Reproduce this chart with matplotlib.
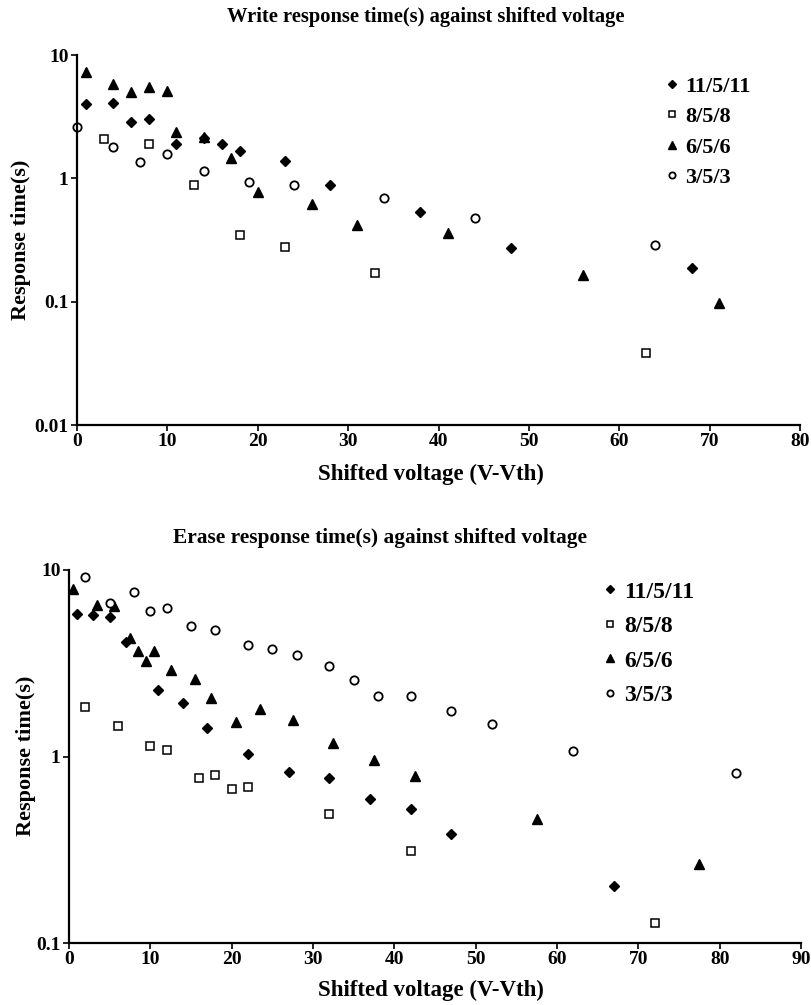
import numpy as np
import matplotlib
matplotlib.use("Agg")
import matplotlib.pyplot as plt
from matplotlib.ticker import NullLocator

plt.rcParams['font.family'] = ['Liberation Serif', 'DejaVu Serif']
plt.rcParams['font.weight'] = 'bold'

series_labels = ["11/5/11", "8/5/8", "6/5/6", "3/5/3"]

# write response (top chart)
w_x_11 = [1, 4, 6, 8, 11, 14, 16, 18, 23, 28, 38, 48, 68]
w_y_11 = [4.0, 4.1, 2.85, 3.05, 1.9, 2.13, 1.9, 1.66, 1.37, 0.89, 0.53, 0.27, 0.187]
w_x_8 = [3, 8, 13, 18, 23, 33, 63]
w_y_8 = [2.1, 1.9, 0.89, 0.35, 0.275, 0.172, 0.038]
w_x_6 = [1, 4, 6, 8, 10, 11, 14, 17, 20, 26, 31, 41, 56, 71]
w_y_6 = [7.3, 5.85, 5.0, 5.5, 5.15, 2.38, 2.15, 1.46, 0.77, 0.62, 0.415, 0.36, 0.163, 0.097]
w_x_3 = [0, 4, 7, 10, 14, 19, 24, 34, 44, 64]
w_y_3 = [2.6, 1.8, 1.35, 1.58, 1.15, 0.93, 0.89, 0.69, 0.476, 0.29]

# erase response (bottom chart)
e_x_11 = [1, 3, 5, 7, 11, 14, 17, 22, 27, 32, 37, 42, 47, 67]
e_y_11 = [5.8, 5.75, 5.6, 4.1, 2.28, 1.93, 1.43, 1.03, 0.83, 0.77, 0.59, 0.52, 0.385, 0.203]
e_x_8 = [2, 6, 10, 12, 16, 18, 20, 22, 32, 42, 72]
e_y_8 = [1.85, 1.45, 1.14, 1.09, 0.77, 0.8, 0.67, 0.69, 0.49, 0.31, 0.128]
e_x_6 = [0.5, 3.5, 5.5, 7.5, 8.5, 9.5, 10.5, 12.5, 15.5, 17.5, 20.5, 23.5, 27.5, 32.5, 37.5, 42.5, 57.5, 77.5]
e_y_6 = [7.9, 6.5, 6.4, 4.3, 3.7, 3.25, 3.7, 2.92, 2.6, 2.06, 1.53, 1.8, 1.56, 1.18, 0.96, 0.79, 0.463, 0.266]
e_x_3 = [2, 5, 8, 10, 12, 15, 18, 22, 25, 28, 32, 35, 38, 42, 47, 52, 62, 82]
e_y_3 = [9.15, 6.65, 7.65, 6.05, 6.25, 5.0, 4.75, 3.95, 3.77, 3.5, 3.05, 2.56, 2.1, 2.12, 1.76, 1.49, 1.07, 0.82]

W, H = 811, 1005
fig = plt.figure(figsize=(W / 100, H / 100), dpi=100)


def px_axes(left, top, right, bottom):
    return fig.add_axes([left / W, 1 - bottom / H, (right - left) / W, (bottom - top) / H])


styles = [
    dict(marker='D', ms=5.4, mfc='black', mec='black'),
    dict(marker='s', ms=6.0, mfc='white', mec='black', mew=1.1),
    dict(marker='^', ms=7.2, mfc='black', mec='black'),
    dict(marker='o', ms=6.0, mfc='white', mec='black', mew=1.3),
]


def draw(ax, data, xmax, ylo, yticks, yticklabels, leg_anchor, leg_size, leg_space):
    for (xs, ys), st, lab in zip(data, styles, series_labels):
        ax.plot(xs, ys, ls='none', label=lab, clip_on=False, **st)
    ax.set_yscale('log')
    ax.set_xlim(0, xmax)
    ax.set_ylim(ylo, 10)
    ax.set_xticks(np.arange(0, xmax + 1, 10))
    ax.set_yticks(yticks)
    ax.set_yticklabels(yticklabels)
    ax.yaxis.set_minor_locator(NullLocator())
    for s in ['top', 'right']:
        ax.spines[s].set_visible(False)
    for s in ['left', 'bottom']:
        ax.spines[s].set_linewidth(1.6)
    ax.tick_params(direction='out', length=4, width=1.2, labelsize=14, pad=2)
    for t in ax.get_xticklabels() + ax.get_yticklabels():
        t.set_fontweight('bold')
    ax.legend(loc='upper left', bbox_to_anchor=leg_anchor, bbox_transform=fig.transFigure,
              frameon=False, fontsize=leg_size, markerscale=0.75, handlelength=0.6,
              handletextpad=0.3, labelspacing=leg_space, borderpad=0, borderaxespad=0)


ax1 = px_axes(77, 55, 800, 425)
draw(ax1, [(w_x_11, w_y_11), (w_x_8, w_y_8), (w_x_6, w_y_6), (w_x_3, w_y_3)],
     80, 0.01, [0.01, 0.1, 1, 10], ["0.01", "0.1", "1", "10"],
     (665 / W, 1 - 76 / H), 16, 0.45)

ax2 = px_axes(69, 570, 801, 943)
draw(ax2, [(e_x_11, e_y_11), (e_x_8, e_y_8), (e_x_6, e_y_6), (e_x_3, e_y_3)],
     90, 0.1, [0.1, 1, 10], ["0.1", "1", "10"],
     (603 / W, 1 - 581 / H), 17, 0.55)

fig.text(426 / W, 1 - 17 / H, "Write response time(s) against shifted voltage",
         ha='center', va='center', fontsize=14.8, fontweight='bold')
fig.text(380 / W, 1 - 538 / H, "Erase response time(s) against shifted voltage",
         ha='center', va='center', fontsize=15.4, fontweight='bold')
fig.text(431 / W, 1 - 474 / H, "Shifted voltage (V-Vth)",
         ha='center', va='center', fontsize=16.5, fontweight='bold')
fig.text(431 / W, 1 - 990 / H, "Shifted voltage (V-Vth)",
         ha='center', va='center', fontsize=16.5, fontweight='bold')
fig.text(21 / W, 1 - 240 / H, "Response time(s)", rotation=90,
         ha='center', va='center', fontsize=16, fontweight='bold')
fig.text(26 / W, 1 - 756 / H, "Response time(s)", rotation=90,
         ha='center', va='center', fontsize=16, fontweight='bold')

fig.savefig("out.png", dpi=100)
